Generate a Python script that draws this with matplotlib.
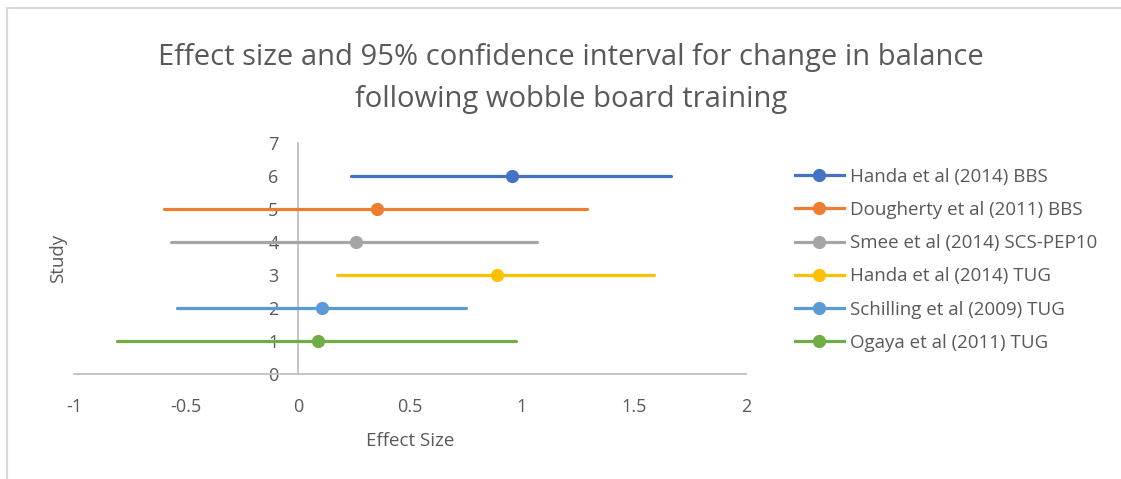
import matplotlib
matplotlib.use("Agg")
import matplotlib.pyplot as plt
from matplotlib.lines import Line2D

plt.rcParams['font.family'] = ['Open Sans', 'DejaVu Sans']

studies = ["Handa et al (2014) BBS", "Dougherty et al (2011) BBS",
           "Smee et al (2014) SCS-PEP10", "Handa et al (2014) TUG",
           "Schilling et al (2009) TUG", "Ogaya et al (2011) TUG"]
study_pos = [6, 5, 4, 3, 2, 1]
effect = [0.955, 0.354, 0.259, 0.887, 0.109, 0.088]
ci_low = [0.235, -0.60, -0.565, 0.173, -0.541, -0.809]
ci_high = [1.665, 1.29, 1.068, 1.589, 0.749, 0.973]
colors = ["#4472C4", "#ED7D31", "#A5A5A5", "#FFC000", "#5B9BD5", "#70AD47"]
x_ticks = [-1, -0.5, 0, 0.5, 1, 1.5, 2]
x_ticklabels = ["-1", "-0.5", "0", "0.5", "1", "1.5", "2"]
y_ticks = [0, 1, 2, 3, 4, 5, 6, 7]

txt = "#595959"
fig = plt.figure(figsize=(11.21, 4.79), dpi=100)
ax = fig.add_axes([74/1121, (479-374.3)/479, 672/1121, 231.3/479])

handles = []
for y, e, lo, hi, c, name in zip(study_pos, effect, ci_low, ci_high, colors, studies):
    ax.plot([lo, hi], [y, y], color=c, lw=2.3, solid_capstyle='round', zorder=3)
    ax.plot([e], [y], 'o', color=c, ms=8.5, zorder=4)
    handles.append(Line2D([0], [0], color=c, lw=2.3, marker='o', ms=8.5, label=name))

ax.set_xlim(-1, 2)
ax.set_ylim(0, 7)
ax.set_xticks(x_ticks)
ax.set_xticklabels(x_ticklabels)
ax.set_yticks(y_ticks)
for s in ['top', 'right']:
    ax.spines[s].set_visible(False)
ax.spines['left'].set_position(('data', 0))
ax.spines['left'].set_color('#BFBFBF')
ax.spines['left'].set_linewidth(1.3)
ax.spines['bottom'].set_color('#BFBFBF')
ax.spines['bottom'].set_linewidth(1.3)
ax.tick_params(axis='both', length=0, labelsize=13, labelcolor=txt)
ax.tick_params(axis='x', pad=17)
ax.tick_params(axis='y', pad=14)
ax.patch.set_visible(False)

fig.text(410/1121, 1-441/479, "Effect Size", ha='center', va='center', fontsize=13.5, color=txt)
fig.text(58/1121, 1-258/479, "Study", ha='center', va='center', rotation=90, fontsize=13.5, color=txt)
fig.text(571/1121, 1-58/479, "Effect size and 95% confidence interval for change in balance",
         ha='center', va='center', fontsize=21, color=txt)
fig.text(571/1121, 1-99/479, "following wobble board training",
         ha='center', va='center', fontsize=21, color=txt)

leg = fig.legend(handles=handles, loc='upper left', bbox_to_anchor=(778/1121, 1-151/479),
                 frameon=False, fontsize=13.5, labelcolor=txt, handlelength=2.6,
                 handletextpad=0.35, labelspacing=0.81)

# outer border lines (top and left)
fig.add_artist(Line2D([7/1121, 1], [1-8/479, 1-8/479], transform=fig.transFigure, color='#D9D9D9', lw=1.5))
fig.add_artist(Line2D([7/1121, 7/1121], [0, 1-8/479], transform=fig.transFigure, color='#D9D9D9', lw=1.5))

fig.savefig("out.png", dpi=100)
